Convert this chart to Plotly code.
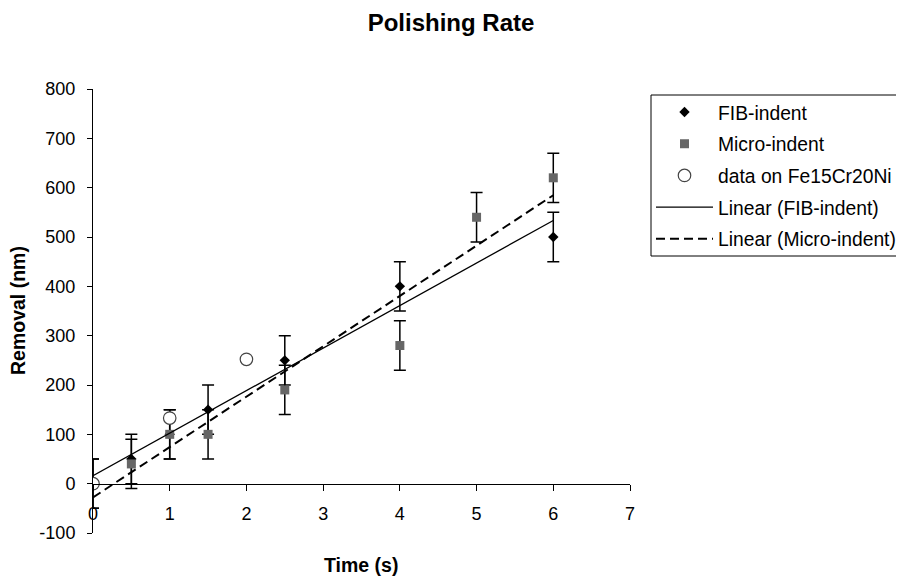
import numpy as np
import plotly.graph_objects as go

# ---- data ----
fib_time = [0, 0.5, 1, 1.5, 2.5, 4, 6]
fib_removal = [0, 50, 100, 150, 250, 400, 500]
fib_err = [50, 50, 50, 50, 50, 50, 50]

micro_time = [0, 0.5, 1, 1.5, 2.5, 4, 5, 6]
micro_removal = [0, 40, 100, 100, 190, 280, 540, 620]
micro_err = [50, 50, 50, 50, 50, 50, 50, 50]

fe_time = [0, 1, 2]
fe_removal = [0, 133, 252]

x_ticks = [0, 1, 2, 3, 4, 5, 6, 7]
y_ticks = [-100, 0, 100, 200, 300, 400, 500, 600, 700, 800]
y_tick_labels = [str(v) for v in y_ticks]

FONT = "Liberation Sans, Arial, sans-serif"

# page body has an 8px margin; figure is sized to fit the window exactly
W, H = 896, 573
OFF = 8
PL, PR, PT, PB = 93 - OFF, 630 - OFF, 89 - OFF, 533 - OFF  # plot box in fig px
PW, PH = PR - PL, PB - PT


def px_x(page_x):
    return (page_x - OFF - PL) / PW


def px_y(page_y):
    return (PB - (page_y - OFF)) / PH


def linfit(x, y):
    m, b = np.polyfit(x, y, 1)
    xs = np.array([min(x), max(x)], dtype=float)
    return xs, m * xs + b


fig = go.Figure()

fig.add_trace(go.Scatter(
    x=fib_time, y=fib_removal, mode="markers", name="FIB-indent",
    legendgroup="a",
    marker=dict(symbol="diamond", size=8, color="black"),
    error_y=dict(type="data", array=fib_err, visible=True, color="black",
                 thickness=1.5, width=6),
))
fig.add_trace(go.Scatter(
    x=micro_time, y=micro_removal, mode="markers", name="Micro-indent",
    legendgroup="b",
    marker=dict(symbol="square", size=9, color="#666666"),
    error_y=dict(type="data", array=micro_err, visible=True, color="black",
                 thickness=1.5, width=6),
))
fig.add_trace(go.Scatter(
    x=fe_time, y=fe_removal, mode="markers", name="data on Fe15Cr20Ni",
    legendgroup="c",
    marker=dict(symbol="circle", size=12.5, color="white",
                line=dict(color="#444444", width=1.2)),
))
fx, fy = linfit(fib_time, fib_removal)
fig.add_trace(go.Scatter(
    x=fx, y=fy, mode="lines", name="Linear (FIB-indent)", legendgroup="d",
    line=dict(color="black", width=1.3),
))
mx, my = linfit(micro_time, micro_removal)
fig.add_trace(go.Scatter(
    x=mx, y=my, mode="lines", name="Linear (Micro-indent)", legendgroup="e",
    line=dict(color="black", width=2, dash="9px,5px"),
))

fig.update_layout(
    width=W, height=H,
    margin=dict(l=PL, r=W - PR, t=PT, b=H - PB, autoexpand=False),
    paper_bgcolor="white", plot_bgcolor="white",
    font=dict(family=FONT, size=18, color="black"),
    title=dict(text="<b>Polishing Rate</b>", x=(451 - OFF) / W,
               xref="container", y=1 - 15 / H, yref="container",
               yanchor="middle", xanchor="center",
               font=dict(size=24, family=FONT)),
    showlegend=True,
    legend=dict(x=px_x(651), y=px_y(93), xanchor="left", yanchor="top",
                borderwidth=0, bgcolor="rgba(0,0,0,0)",
                font=dict(size=19.3, family=FONT), tracegroupgap=3.6,
                itemwidth=57),
    shapes=[
        dict(type="rect", xref="paper", yref="paper",
             x0=px_x(651), x1=px_x(902.5), y0=px_y(256), y1=px_y(95),
             line=dict(color="black", width=1), fillcolor="rgba(0,0,0,0)",
             layer="below"),
    ],
    xaxis=dict(range=[0, 7], tickvals=x_ticks, ticks="outside", ticklen=6,
               tickcolor="black", showline=True, linecolor="black",
               linewidth=1, showgrid=False, zeroline=False,
               anchor="free", position=100 / 900, ticklabelstandoff=8),
    yaxis=dict(range=[-100, 800], tickvals=y_ticks, ticktext=y_tick_labels,
               ticks="outside", ticklen=5, tickcolor="black",
               showline=True, linecolor="black", linewidth=1,
               showgrid=False, zeroline=False, ticklabelstandoff=8),
    annotations=[
        dict(text="<b>Time (s)</b>", x=px_x(361), xref="paper",
             y=px_y(565), yref="paper", yanchor="middle",
             showarrow=False, font=dict(size=19.5, family=FONT)),
        dict(text="<b>Removal (nm)</b>", x=px_x(18), xanchor="center",
             y=0.5, xref="paper", yref="paper", textangle=-90,
             showarrow=False, font=dict(size=19.5, family=FONT)),
    ],
)

fig.write_html("out.html")
